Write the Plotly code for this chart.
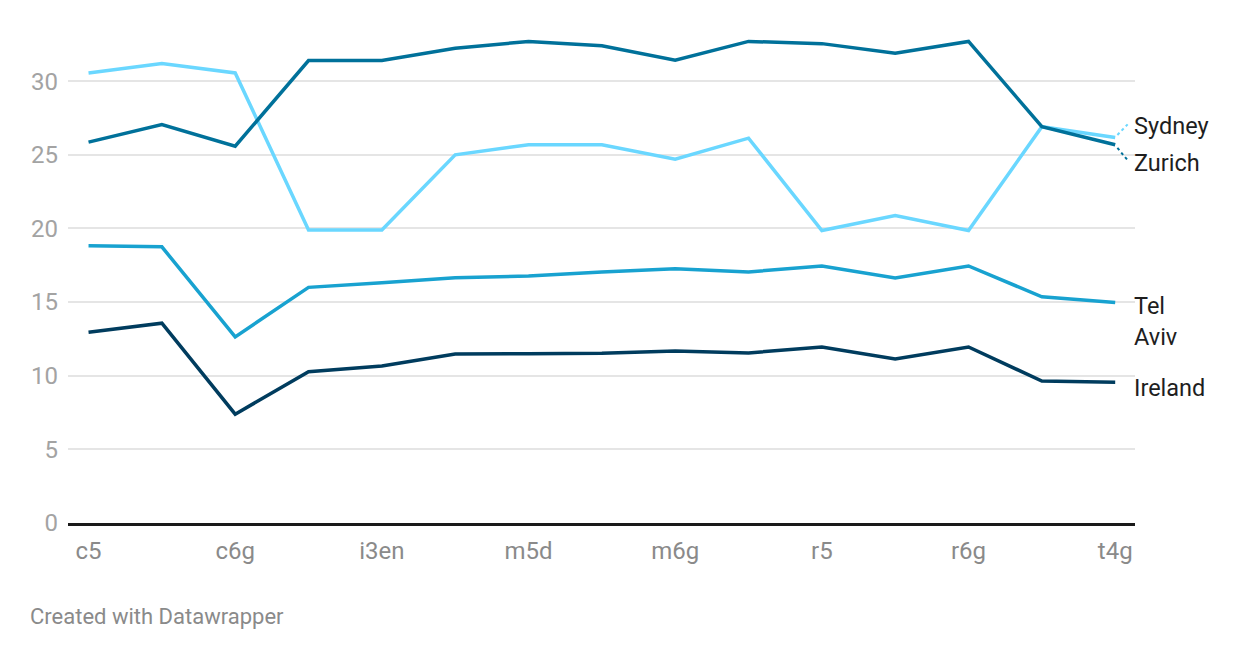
import plotly.graph_objects as go

categories = ["c5", "c5n", "c6g", "c6i", "i3en", "m5", "m5d", "m5n",
              "m6g", "m6i", "r5", "r5d", "r6g", "r6i", "t4g"]
sydney = [30.56, 31.2, 30.56, 19.9, 19.9, 25.0, 25.68, 25.68,
          24.7, 26.13, 19.86, 20.88, 19.86, 26.91, 26.17]
zurich = [25.86, 27.05, 25.59, 31.4, 31.4, 32.23, 32.7, 32.4,
          31.42, 32.7, 32.55, 31.9, 32.7, 26.91, 25.68]
tel_aviv = [18.82, 18.75, 12.64, 16.0, 16.32, 16.66, 16.77, 17.05,
            17.27, 17.05, 17.45, 16.64, 17.45, 15.36, 14.98]
ireland = [12.95, 13.57, 7.39, 10.27, 10.66, 11.48, 11.5, 11.52,
           11.68, 11.55, 11.95, 11.14, 11.95, 9.64, 9.55]
y_ticks = [0, 5, 10, 15, 20, 25, 30]

series = [
    ("Sydney", sydney, "#6ad7ff", "Sydney", 12),
    ("Tel Aviv", tel_aviv, "#18a2d0", "Tel<br>Aviv", -19),
    ("Zurich", zurich, "#00719a", "Zurich", -18),
    ("Ireland", ireland, "#003c5e", "Ireland", -6),
]

xs = list(range(len(categories)))
fig = go.Figure()
for name, vals, color, _, _ in series:
    fig.add_trace(go.Scatter(x=xs, y=vals, mode="lines", name=name,
                             line=dict(color=color, width=3.5),
                             hoverinfo="skip"))

last = xs[-1]
for name, vals, color, label, shift in series:
    fig.add_annotation(x=last, y=vals[-1], text=label, showarrow=False,
                       xanchor="left", yanchor="middle", align="left",
                       xshift=17, yshift=shift,
                       font=dict(family="Roboto", size=23.5, color="#1e1e1e"))

# dotted connectors for the displaced Sydney / Zurich labels
for vals, color, dy in [(sydney, "#6ad7ff", 0.9), (zurich, "#00719a", -1.05)]:
    fig.add_shape(type="line", xref="x", yref="y",
                  x0=last + 0.03, y0=vals[-1] + dy * 0.2,
                  x1=last + 0.17, y1=vals[-1] + dy,
                  line=dict(color=color, width=2, dash="dot"))

fig.add_annotation(xref="paper", yref="paper", x=0, y=0, xshift=-40, yshift=-93,
                   xanchor="left", yanchor="middle", showarrow=False,
                   text="Created with Datawrapper",
                   font=dict(family="Roboto", size=22, color="#8a8a8a"))

fig.update_layout(
    width=1260, height=660,
    margin=dict(l=60, r=133, t=29, b=145),
    paper_bgcolor="white", plot_bgcolor="white",
    showlegend=False,
    font=dict(family="Roboto"),
    xaxis=dict(range=[-0.28, 14.27], tickmode="array",
               tickvals=xs[::2], ticktext=categories[::2],
               showgrid=False, zeroline=False,
               showline=True, linecolor="#1a1a1a", linewidth=2.5,
               ticks="", ticklabelstandoff=4,
               tickfont=dict(family="Roboto", size=24, color="#8a8a8a")),
    yaxis=dict(range=[0, 33.0], tickmode="array", tickvals=y_ticks,
               showgrid=True, gridcolor="#e5e5e5", gridwidth=1.5,
               zeroline=False, showline=False, ticks="",
               ticklabelstandoff=9,
               tickfont=dict(family="Roboto", size=24, color="#a3a3a3")),
)

fig.write_html("out.html")
